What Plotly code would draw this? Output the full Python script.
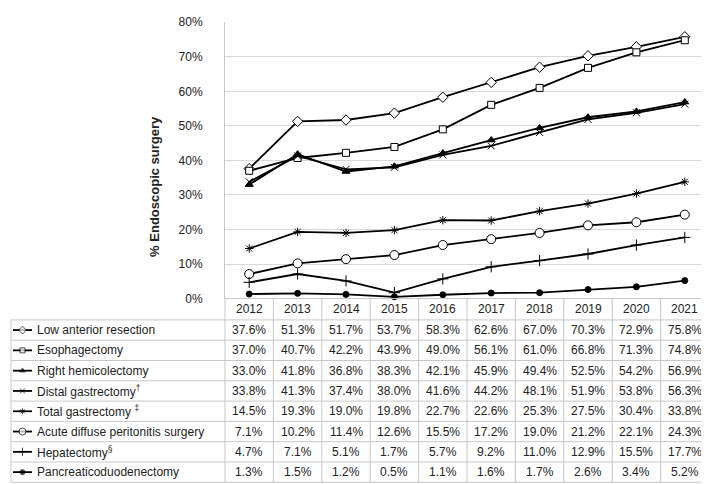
import plotly.graph_objects as go

W, H = 709, 484

years = ["2012", "2013", "2014", "2015", "2016", "2017", "2018", "2019", "2020", "2021"]

series_names = [
    "Low anterior resection",
    "Esophagectomy",
    "Right hemicolectomy",
    "Distal gastrectomy<sup>†</sup>",
    "Total gastrectomy <sup>‡</sup>",
    "Acute diffuse peritonitis surgery",
    "Hepatectomy<sup>§</sup>",
    "Pancreaticoduodenectomy",
]

low_anterior = [37.6, 51.3, 51.7, 53.7, 58.3, 62.6, 67.0, 70.3, 72.9, 75.8]
esophagectomy = [37.0, 40.7, 42.2, 43.9, 49.0, 56.1, 61.0, 66.8, 71.3, 74.8]
right_hemi = [33.0, 41.8, 36.8, 38.3, 42.1, 45.9, 49.4, 52.5, 54.2, 56.9]
distal_gastr = [33.8, 41.3, 37.4, 38.0, 41.6, 44.2, 48.1, 51.9, 53.8, 56.3]
total_gastr = [14.5, 19.3, 19.0, 19.8, 22.7, 22.6, 25.3, 27.5, 30.4, 33.8]
acute_perit = [7.1, 10.2, 11.4, 12.6, 15.5, 17.2, 19.0, 21.2, 22.1, 24.3]
hepatectomy = [4.7, 7.1, 5.1, 1.7, 5.7, 9.2, 11.0, 12.9, 15.5, 17.7]
pancreatico = [1.3, 1.5, 1.2, 0.5, 1.1, 1.6, 1.7, 2.6, 3.4, 5.2]

series_values = [low_anterior, esophagectomy, right_hemi, distal_gastr,
                 total_gastr, acute_perit, hepatectomy, pancreatico]

y_ticks = [0, 10, 20, 30, 40, 50, 60, 70, 80]
y_tick_labels = ["0%", "10%", "20%", "30%", "40%", "50%", "60%", "70%", "80%"]

marker_styles = [
    dict(symbol="diamond", size=8, color="white", line=dict(color="black", width=1)),
    dict(symbol="square", size=7, color="white", line=dict(color="black", width=1)),
    dict(symbol="triangle-up", size=7, color="black", line=dict(color="black", width=1)),
    dict(symbol="x-thin-open", size=7, color="black", line=dict(color="black", width=1)),
    dict(symbol="asterisk-open", size=7, color="black", line=dict(color="black", width=1)),
    dict(symbol="circle", size=9, color="white", line=dict(color="black", width=1)),
    dict(symbol="cross-thin-open", size=8, color="black", line=dict(color="black", width=1)),
    dict(symbol="circle", size=6, color="black", line=dict(color="black", width=1)),
]

# layout geometry (pixels)
PX_L, PX_R = 217, 701
PY_T, PY_0 = 7.5, 292
TBL_L = 3
HDR_B = 314
ROW_H = 20.9
GRID = "#c8c8c8"
FONT = "Liberation Sans"
TXT = "#222222"

fig = go.Figure()

for name, vals, ms in zip(series_names, series_values, marker_styles):
    fig.add_trace(go.Scatter(
        x=list(range(len(years))), y=vals, mode="lines+markers",
        line=dict(color="black", width=1.8), marker=ms, name=name,
        showlegend=False, xaxis="x", yaxis="y", cliponaxis=False,
    ))

# legend keys in the table (pixel axes x2/y2)
for i, ms in enumerate(marker_styles):
    yc = HDR_B + ROW_H * (i + 0.5)
    fig.add_trace(go.Scatter(
        x=[5, 14.5, 24], y=[yc, yc, yc], mode="lines+markers",
        line=dict(color="black", width=1.8),
        marker=dict(ms, size=[0, max(ms["size"] - 2, 5), 0]),
        showlegend=False, xaxis="x2", yaxis="y2", hoverinfo="skip",
    ))

shapes = []
def hline(x0, x1, y):
    shapes.append(dict(type="line", xref="x2", yref="y2", x0=x0, x1=x1, y0=y, y1=y,
                       line=dict(color=GRID, width=1)))
def vline(x, y0, y1):
    shapes.append(dict(type="line", xref="x2", yref="y2", x0=x, x1=x, y0=y0, y1=y1,
                       line=dict(color=GRID, width=1)))

n = len(years)
col_w = (PX_R - PX_L) / n
TBL_B = HDR_B + ROW_H * len(series_names)
hline(PX_L, PX_R, PY_0)
for r in range(len(series_names) + 1):
    hline(TBL_L, PX_R, HDR_B + ROW_H * r)
vline(TBL_L, HDR_B, TBL_B)
for c in range(n + 1):
    vline(PX_L + col_w * c, PY_0, TBL_B)

annotations = []
for c, yr in enumerate(years):
    annotations.append(dict(x=PX_L + col_w * (c + 0.5), y=(PY_0 + HDR_B) / 2, xref="x2", yref="y2",
                            text=yr, showarrow=False, font=dict(size=12, color=TXT, family=FONT)))
for r, (name, vals) in enumerate(zip(series_names, series_values)):
    yc = HDR_B + ROW_H * (r + 0.5)
    annotations.append(dict(x=27, y=yc, xref="x2", yref="y2", text=name, xanchor="left",
                            showarrow=False, font=dict(size=12, color=TXT, family=FONT)))
    for c, v in enumerate(vals):
        annotations.append(dict(x=PX_L + col_w * (c + 0.5), y=yc, xref="x2", yref="y2",
                                text=f"{v:.1f}%", showarrow=False,
                                font=dict(size=12, color=TXT, family=FONT)))

annotations.append(dict(x=147, y=177, xref="x2", yref="y2", text="<b>% Endoscopic surgery</b>",
                        textangle=-90, showarrow=False, font=dict(size=13, color=TXT, family=FONT)))

fig.update_layout(
    width=W, height=H, margin=dict(l=0, r=0, t=0, b=0),
    paper_bgcolor="white", plot_bgcolor="rgba(0,0,0,0)",
    font=dict(family=FONT, color=TXT),
    xaxis=dict(domain=[PX_L / W, PX_R / W], range=[-0.5, n - 0.5], showticklabels=False,
               showgrid=False, zeroline=False, showline=False, fixedrange=True, anchor="y"),
    yaxis=dict(domain=[1 - PY_0 / H, 1 - PY_T / H], range=[0, 80], tickvals=y_ticks,
               ticktext=y_tick_labels, showgrid=True, gridcolor="#d9d9d9", gridwidth=1,
               zeroline=False, showline=True, linecolor=GRID, linewidth=1, anchor="x",
               ticks="", ticklabelstandoff=19, tickfont=dict(size=12, color=TXT, family=FONT)),
    xaxis2=dict(domain=[0, 1], range=[0, W], visible=False, anchor="y2", fixedrange=True),
    yaxis2=dict(domain=[0, 1], range=[H, 0], visible=False, anchor="x2", fixedrange=True),
    shapes=shapes, annotations=annotations,
)

fig.write_html("out.html")
